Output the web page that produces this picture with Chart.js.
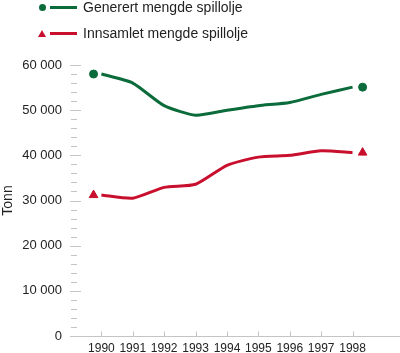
<!DOCTYPE html>
<html>
<head>
<meta charset="utf-8">
<script src="https://cdn.jsdelivr.net/npm/chart.js@4"></script>
<style>
  body { margin: 0; background: #fff; font-family: "Liberation Sans", Arial, sans-serif; }
  #wrap { position: relative; width: 400px; height: 353px; }
  .legend-item { position: absolute; left: 38px; height: 16px; display: flex; align-items: center; font-size: 14px; color: #222; }
  .marker { width: 8px; display: flex; justify-content: center; }
  .dot { width: 7px; height: 7px; border-radius: 50%; background: #0b6b3a; }
  .tri { width: 0; height: 0; border-left: 4px solid transparent; border-right: 4px solid transparent; border-bottom: 7px solid #c8102e; }
  .swatch { width: 27px; height: 3px; margin: 0 6px 0 4px; }
</style>
</head>
<body>
<div id="wrap">
  <div class="legend-item" style="top: -1px;">
    <span class="marker"><span class="dot"></span></span>
    <span class="swatch" style="background:#0b6b3a"></span>
    <span>Generert mengde spillolje</span>
  </div>
  <div class="legend-item" style="top: 25px;">
    <span class="marker"><span class="tri"></span></span>
    <span class="swatch" style="background:#c8102e"></span>
    <span>Innsamlet mengde spillolje</span>
  </div>
  <canvas id="lineChart" width="400" height="353"></canvas>
</div>
<script>
// Data
const years = [1990, 1991, 1992, 1993, 1994, 1995, 1996, 1997, 1998];
const generert = [58000, 56000, 51000, 48900, 50000, 51000, 51700, 53500, 55100];
const innsamlet = [31200, 30500, 32900, 33600, 37800, 39600, 40000, 41000, 40600];

// End markers sit a bit outside the first and last year
const markerYears = [1989.75, 1998.32];

const green = '#0b6b3a';
const red = '#c8102e';

const toPoints = (xs, ys) => xs.map((x, i) => ({ x: x, y: ys[i] }));

// Draws the short tick marks and the baseline like the original
const axisMarks = {
  id: 'axisMarks',
  beforeDatasetsDraw(chart) {
    const ctx = chart.ctx;
    const area = chart.chartArea;
    const xs = chart.scales.x;
    const ys = chart.scales.y;
    ctx.save();
    ctx.strokeStyle = '#c4c4c4';
    ctx.lineWidth = 1;
    // y ticks, every 2000
    for (let v = 2000; v <= 60000; v += 2000) {
      const y = Math.round(ys.getPixelForValue(v)) + 0.5;
      const major = v % 10000 === 0;
      ctx.beginPath();
      ctx.moveTo(area.left + (major ? 0 : 1), y);
      ctx.lineTo(area.left + (major ? 11 : 7), y);
      ctx.stroke();
    }
    // baseline
    const y0 = Math.round(ys.getPixelForValue(0)) + 0.5;
    ctx.beginPath();
    ctx.moveTo(area.left, y0);
    ctx.lineTo(chart.width, y0);
    ctx.stroke();
    // x ticks pointing up
    years.forEach(yr => {
      const x = Math.round(xs.getPixelForValue(yr)) + 0.5;
      ctx.beginPath();
      ctx.moveTo(x, y0);
      ctx.lineTo(x, y0 - 5);
      ctx.stroke();
    });
    ctx.restore();
  }
};

var ctx = document.getElementById('lineChart').getContext('2d');
var chart = new Chart(ctx, {
  type: 'line',
  data: {
    datasets: [
      {
        label: 'Generert mengde spillolje',
        data: toPoints(years, generert),
        borderColor: green,
        borderWidth: 3,
        pointRadius: 0,
        tension: 0.2,
      },
      {
        label: 'Innsamlet mengde spillolje',
        data: toPoints(years, innsamlet),
        borderColor: red,
        borderWidth: 3,
        pointRadius: 0,
        tension: 0.2,
      },
      {
        data: toPoints(markerYears, [generert[0], generert[generert.length - 1]]),
        showLine: false,
        pointStyle: 'circle',
        pointRadius: 4,
        backgroundColor: green,
        borderColor: green,
      },
      {
        data: toPoints(markerYears, [innsamlet[0], innsamlet[innsamlet.length - 1]]),
        showLine: false,
        pointStyle: 'triangle',
        pointRadius: 5,
        backgroundColor: red,
        borderColor: red,
      }
    ]
  },
  options: {
    responsive: false,
    animation: false,
    layout: { padding: { top: 65, right: 0, left: 0, bottom: 0 } },
    plugins: {
      legend: { display: false },
      tooltip: { enabled: false },
    },
    scales: {
      x: {
        type: 'linear',
        min: 1989.0,
        max: 1999.32,
        afterBuildTicks: scale => { scale.ticks = years.map(v => ({ value: v })); },
        afterFit: scale => {
          scale.height = 17;
          scale.paddingLeft = 0;
          scale.paddingRight = 0;
        },
        grid: { display: false, drawTicks: false },
        border: { display: false },
        ticks: {
          autoSkip: false,
          maxRotation: 0,
          padding: 5,
          color: '#222',
          font: { family: 'Liberation Sans', size: 12 },
          callback: value => String(value),
        },
      },
      y: {
        min: 0,
        max: 60000,
        afterFit: scale => { scale.width = 70; },
        grid: { display: false, drawTicks: false },
        border: { display: false },
        title: {
          display: true,
          text: 'Tonn',
          color: '#222',
          padding: { top: 0, bottom: 0 },
          font: { family: 'Liberation Sans', size: 14 },
        },
        ticks: {
          stepSize: 10000,
          padding: 8,
          color: '#222',
          font: { family: 'Liberation Sans', size: 13 },
          callback: value => value === 0 ? '0' : (value / 1000) + ' 000',
        },
      }
    }
  },
  plugins: [axisMarks]
});
</script>
</body>
</html>
